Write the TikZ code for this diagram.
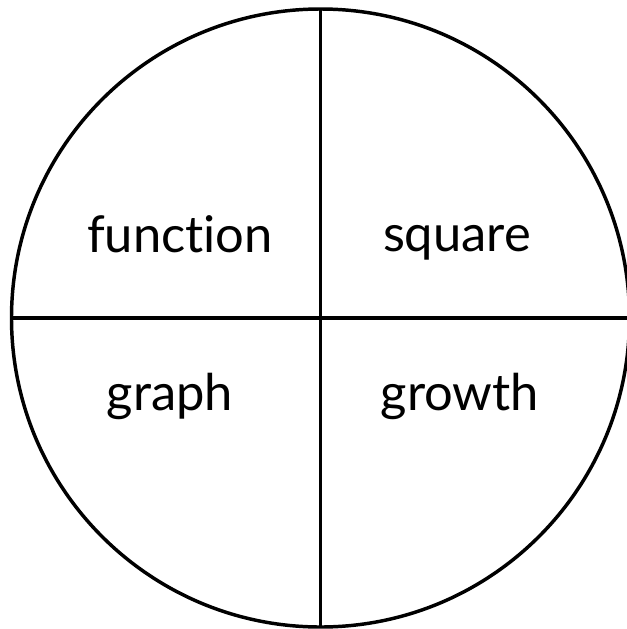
\documentclass[tikz,border=0pt]{standalone}
\usepackage{fontspec}
\setmainfont{Lato}[Ligatures=NoCommon]
\usetikzlibrary{positioning}
\tikzset{
  line cap=round,
  line join=round,
  wheel/.style={draw, circle, line width=2.6pt, minimum size=463.5pt, inner sep=0pt, outer sep=0pt},
  spoke/.style={line width=2.6pt, line cap=butt},
  word/.style={font=\fontsize{38}{46}\selectfont, anchor=base, inner sep=0pt}
}
\begin{document}
\begin{tikzpicture}[x=0.75pt, y=-0.75pt]
    \useasboundingbox (0,0) rectangle (627,629);

    \node[wheel] (ring) at (320.5,318) {};
    \draw[spoke] (ring.north) -- (ring.south);
    \draw[spoke] (ring.west) -- (ring.east);

    \node[word] (fn) at (180,252) {function};
    \node[word] (sq) at (457,251) {square};
    \node[word] (gr) at (170,410) {graph};
    \node[word] (gw) at (460,410) {growth};
\end{tikzpicture}
\end{document}
